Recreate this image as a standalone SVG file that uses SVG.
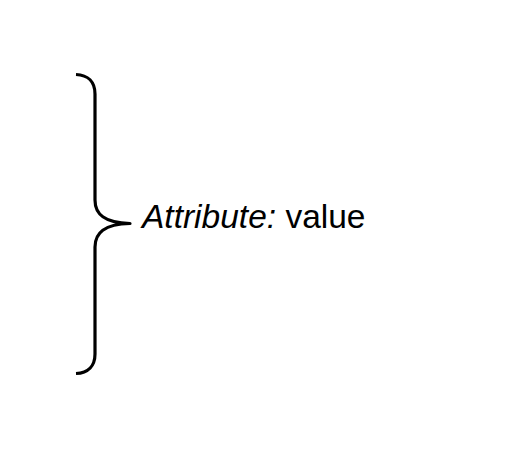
<svg xmlns="http://www.w3.org/2000/svg" width="531" height="450" viewBox="0 0 531 450">
<style>
.brace{fill:none;stroke:#000;stroke-width:3.2;stroke-linecap:butt;stroke-linejoin:round}
.lbl{font-family:"Liberation Sans",Arial,sans-serif;font-size:33.5px;fill:#000}
</style>
<rect width="531" height="450" fill="#fff"/>
<g id="connectors">
<path class="brace" d="M76,74.5 C88,75 95,82 95,94 L95,200 C95,214 104,223 130,223.5 C104,224 95,233 95,247 L95,354 C95,366 88,373 76,373.5"/>
</g>
<g id="label">
<text class="lbl" x="142" y="228"><tspan font-style="italic">Attribute:</tspan> value</text>
</g>
</svg>
